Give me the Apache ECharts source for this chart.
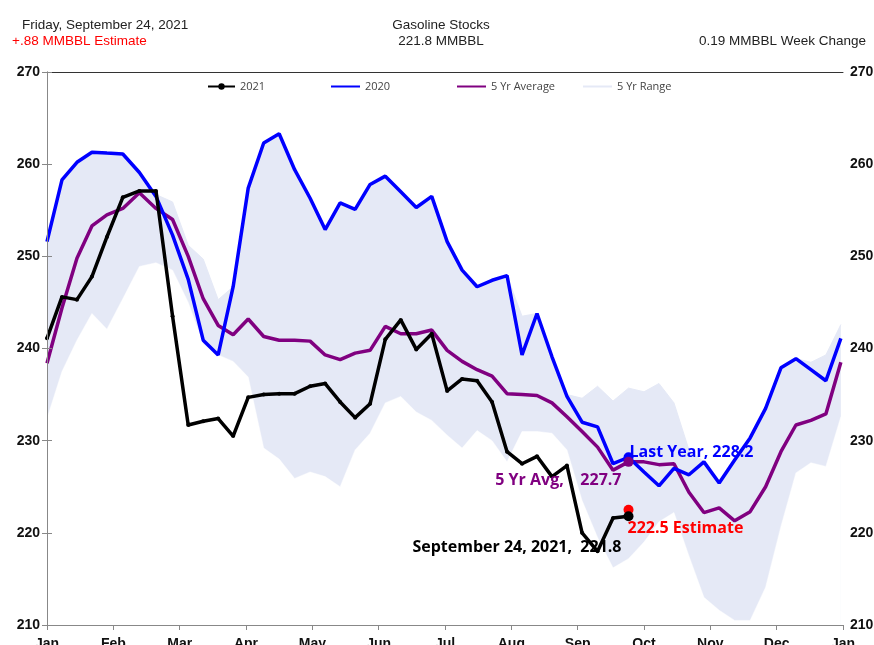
<!DOCTYPE html>
<html>
<head>
<meta charset="utf-8">
<script src="https://cdn.jsdelivr.net/npm/echarts@6/dist/echarts.min.js"></script>
<style>
  html, body { margin: 0; padding: 0; background: #fff; }
  #chart { width: 874px; height: 645px; }
</style>
</head>
<body>
<div id="chart"></div>
<script>
// week-ending dates (plotted on the 2021 calendar)
const weeks = [
  '01-01','01-08','01-15','01-22','01-29','02-05','02-12','02-19','02-26',
  '03-05','03-12','03-19','03-26','04-02','04-09','04-16','04-23','04-30',
  '05-07','05-14','05-21','05-28','06-04','06-11','06-18','06-25','07-02',
  '07-09','07-16','07-23','07-30','08-06','08-13','08-20','08-27','09-03',
  '09-10','09-17','09-24','10-01','10-08','10-15','10-22','10-29','11-05',
  '11-12','11-19','11-26','12-03','12-10','12-17','12-24','12-31'
];
const monthLabels = ['Jan','Feb','Mar','Apr','May','Jun','Jul','Aug','Sep','Oct','Nov','Dec','Jan'];

// MMBBL
const stocks2021 = [
  241.1, 245.6, 245.3, 247.8, 252.1, 256.4, 257.1, 257.1, 243.5,
  231.7, 232.1, 232.4, 230.5, 234.7, 235.0, 235.1, 235.1, 235.9,
  236.2, 234.2, 232.5, 234.0, 241.0, 243.1, 239.9, 241.6, 235.4,
  236.7, 236.5, 234.2, 228.8, 227.5, 228.3, 226.1, 227.3, 220.0,
  218.0, 221.6, 221.8
];
const stocks2020 = [
  251.6, 258.3, 260.2, 261.3, 261.2, 261.1, 259.1, 256.5, 252.3,
  247.5, 240.9, 239.3, 246.7, 257.4, 262.3, 263.3, 259.4, 256.3,
  252.9, 255.8, 255.1, 257.8, 258.7, 257.0, 255.3, 256.5, 251.6,
  248.5, 246.7, 247.4, 247.9, 239.3, 243.8, 239.1, 234.8, 232.0,
  231.5, 227.5, 228.2, 226.6, 225.1, 227.0, 226.3, 227.7, 225.4,
  227.9, 230.3, 233.5, 237.9, 238.9, 237.7, 236.5, 241.1
];
const avg5yr = [
  238.4, 244.4, 249.8, 253.3, 254.5, 255.2, 256.9, 255.2, 254.0,
  250.0, 245.4, 242.5, 241.5, 243.2, 241.3, 240.9, 240.9, 240.8,
  239.3, 238.8, 239.5, 239.8, 242.4, 241.6, 241.6, 242.0, 239.8,
  238.6, 237.7, 237.0, 235.1, 235.0, 234.9, 234.1, 232.6, 231.0,
  229.3, 226.8, 227.7, 227.7, 227.4, 227.5, 224.4, 222.2, 222.7,
  221.3, 222.3, 225.0, 228.8, 231.7, 232.2, 232.9, 238.5
];
const rangeLow = [
  232.4, 237.5, 240.9, 243.8, 242.1, 245.4, 248.9, 249.3, 248.5,
  245.0, 240.5, 239.3, 238.6, 236.9, 229.2, 228.0, 225.9, 226.6,
  226.1, 225.0, 229.0, 230.8, 234.1, 234.8, 233.1, 232.2, 230.6,
  229.2, 231.1, 230.0, 227.7, 231.0, 231.0, 230.8, 229.0, 223.5,
  219.5, 216.2, 217.2, 219.0, 221.2, 222.2, 217.5, 213.0, 211.6,
  210.5, 210.5, 214.1, 220.7, 226.5, 227.6, 227.2, 232.6
];
const rangeHigh = [
  251.6, 258.3, 260.2, 261.3, 261.2, 261.1, 259.1, 256.7, 255.9,
  251.2, 249.7, 245.3, 246.7, 257.4, 262.3, 263.3, 259.4, 256.3,
  252.9, 255.8, 255.1, 257.8, 258.7, 257.0, 255.3, 256.5, 251.6,
  248.5, 246.7, 247.4, 247.9, 243.5, 243.8, 239.1, 235.0, 234.6,
  235.9, 234.3, 235.7, 235.3, 236.2, 234.1, 229.0, 227.7, 225.4,
  227.9, 230.3, 233.5, 237.9, 238.9, 238.5, 239.3, 242.6
];
const lastIdx = 38;
const estimate = 222.5;

// month index + fraction of the month, so months are evenly spaced
function weekPos(md) {
  const [m, d] = md.split('-').map(Number);
  const dim = new Date(2021, m, 0).getDate();
  return (m - 1) + (d - 1) / dim;
}
const pts = arr => arr.map((v, i) => [weekPos(weeks[i]), v]);
const lastX = weekPos(weeks[lastIdx]);

const BAND = '#e5e9f6';
const HEAD = { fontFamily: 'Liberation Sans', fontSize: 13.5, fontWeight: 'normal', color: '#222' };
const annoFont = { fontFamily: 'Open Sans', fontWeight: 'bold', fontSize: 16 };
const legendBase = {
  top: 76, itemWidth: 29, itemHeight: 2, itemGap: 0,
  textStyle: { fontFamily: 'Open Sans', fontSize: 11, color: '#444' },
};
const axisY = pos => ({
  type: 'value', min: 210, max: 270, interval: 10, position: pos, z: 10,
  axisLine: { show: true, lineStyle: { color: '#888' } },
  axisTick: { show: true, length: 5, lineStyle: { color: '#888' } },
  axisLabel: { margin: 7, fontFamily: 'Liberation Sans', fontWeight: 'bold', fontSize: 14, color: '#111' },
  splitLine: { show: false },
});

const chart = echarts.init(document.getElementById('chart'), null, { renderer: 'canvas' });

chart.setOption({
  backgroundColor: '#fff',
  animation: false,
  title: [
    { text: 'Friday, September 24, 2021', left: 17, top: 13, textStyle: HEAD },
    { text: '+.88 MMBBL Estimate', left: 7, top: 29, textStyle: { ...HEAD, color: '#ff0000' } },
    { text: 'Gasoline Stocks', left: 436, top: 13, textAlign: 'center', textStyle: HEAD },
    { text: '221.8 MMBBL', left: 436, top: 29, textAlign: 'center', textStyle: HEAD },
    { text: '0.19 MMBBL Week Change', right: 3, top: 29, textStyle: HEAD },
  ],
  legend: [
    { ...legendBase, left: 202, itemWidth: 27, itemHeight: 8, data: ['2021'] },
    { ...legendBase, left: 326, data: [{ name: '2020', icon: 'rect' }] },
    { ...legendBase, left: 452, data: [{ name: '5 Yr Average', icon: 'rect' }] },
    { ...legendBase, left: 578, data: [{ name: '5 Yr Range', icon: 'rect' }] },
  ],
  grid: { left: 47, right: 31, top: 72, bottom: 20, outerBoundsMode: 'none' },
  xAxis: [
    {
      type: 'value', min: 0, max: 12, interval: 1, position: 'bottom', z: 10,
      axisLine: { show: true, lineStyle: { color: '#888', width: 1 } },
      axisTick: { show: true, length: 5, lineStyle: { color: '#888' } },
      axisLabel: {
        margin: 12, fontFamily: 'Liberation Sans', fontWeight: 'bold', fontSize: 14, color: '#111',
        formatter: v => monthLabels[Math.round(v)] || '',
      },
      splitLine: { show: false },
    },
    {
      type: 'value', min: 0, max: 12, position: 'top', z: 10,
      axisLine: { show: true, lineStyle: { color: '#333', width: 1 } },
      axisTick: { show: false }, axisLabel: { show: false }, splitLine: { show: false },
    },
  ],
  yAxis: [axisY('left'), axisY('right')],
  series: [
    {
      name: '5 Yr Range', type: 'line', data: pts(rangeHigh),
      symbol: 'none',
      lineStyle: { color: BAND, width: 1 },
      itemStyle: { color: BAND },
      areaStyle: { color: BAND, opacity: 1, origin: 'start' },
      z: 1,
    },
    {
      // blank out everything below the low edge of the range
      name: 'range low', type: 'line', data: pts(rangeLow),
      symbol: 'none', silent: true,
      lineStyle: { color: '#fff', width: 0.5 },
      areaStyle: { color: '#fff', opacity: 1, origin: 'start' },
      z: 1,
    },
    {
      name: '5 Yr Average', type: 'line', data: pts(avg5yr),
      symbol: 'none', lineStyle: { color: '#800080', width: 3.5 }, itemStyle: { color: '#800080' }, z: 3,
    },
    {
      name: '2020', type: 'line', data: pts(stocks2020),
      symbol: 'none', lineStyle: { color: '#0000ff', width: 3.5 }, itemStyle: { color: '#0000ff' }, z: 4,
    },
    {
      name: '2021', type: 'line', data: pts(stocks2021),
      symbol: 'circle', symbolSize: 4, showSymbol: true,
      lineStyle: { color: '#000', width: 3.5 }, itemStyle: { color: '#000' }, z: 5,
    },
    // end-of-line call-outs
    {
      type: 'scatter', z: 6, symbolSize: 10,
      itemStyle: { opacity: 1 },
      data: [{
        value: [lastX, stocks2020[lastIdx]],
        itemStyle: { color: '#0000ff', opacity: 1 },
        label: { show: true, position: 'right', distance: -4, offset: [0, -5],
          formatter: 'Last Year, ' + stocks2020[lastIdx].toFixed(1), color: '#0000ff', ...annoFont },
      }, {
        value: [lastX, avg5yr[lastIdx]],
        itemStyle: { color: '#800080', opacity: 1 },
        label: { show: true, position: 'left', distance: 2, offset: [0, 19],
          formatter: '5 Yr Avg,    ' + avg5yr[lastIdx].toFixed(1), color: '#800080', ...annoFont },
      }, {
        value: [lastX, estimate],
        itemStyle: { color: '#ff0000', opacity: 1 },
        label: { show: true, position: 'right', distance: -6, offset: [0, 19],
          formatter: estimate.toFixed(1) + ' Estimate', color: '#ff0000', ...annoFont },
      }, {
        value: [lastX, stocks2021[lastIdx]],
        itemStyle: { color: '#000', opacity: 1 },
        label: { show: true, position: 'left', distance: 2, offset: [0, 31],
          formatter: 'September 24, 2021,  ' + stocks2021[lastIdx].toFixed(1), color: '#000', ...annoFont },
      }],
    },
  ],
});
</script>
</body>
</html>
